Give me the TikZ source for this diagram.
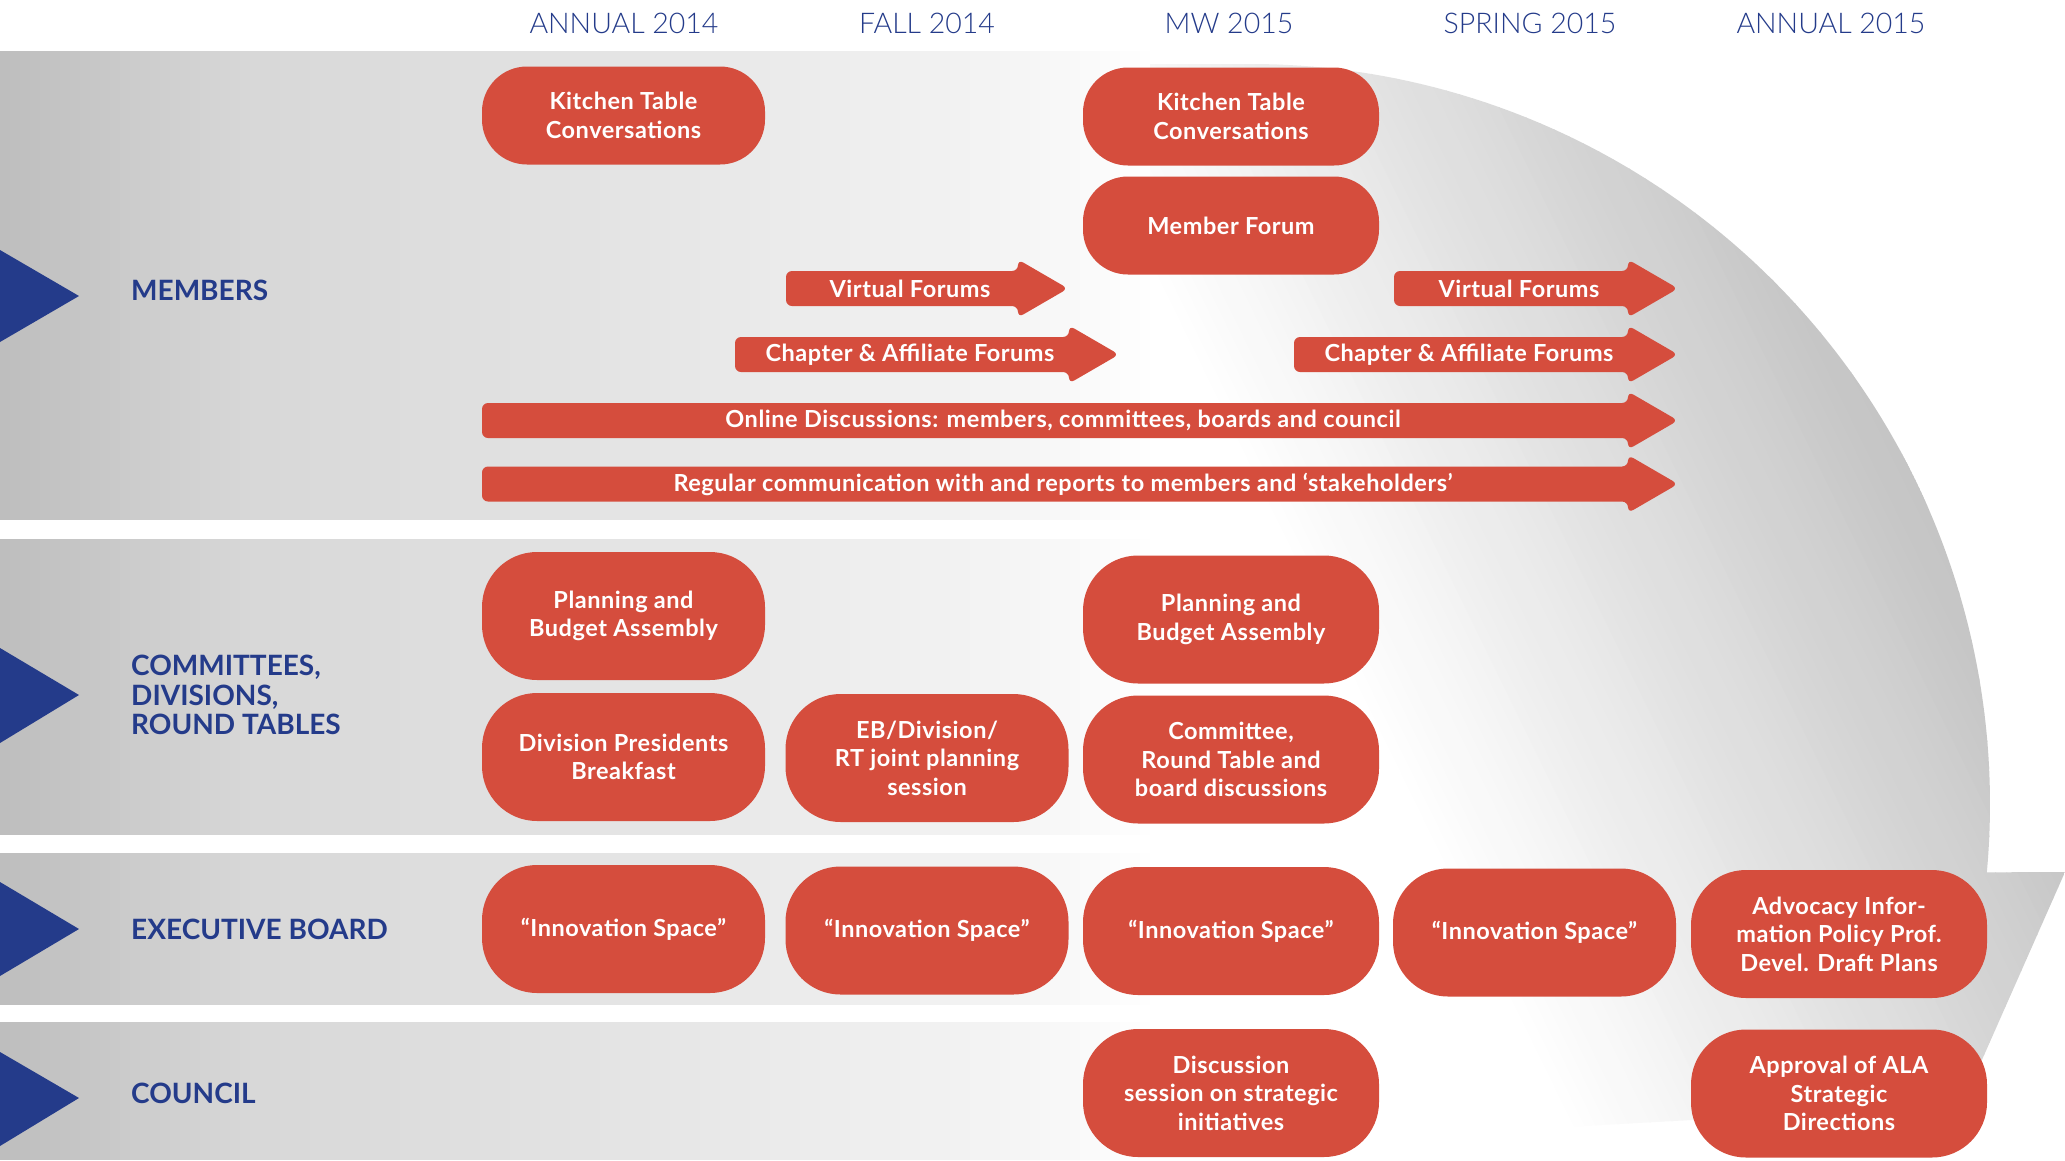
\documentclass[tikz,border=0pt]{standalone}
\usepackage{fontspec}
\setmainfont{Lato}
\newfontfamily\boxfont{Lato}[LetterSpace=2.3]
\newfontfamily\hdrfont{Lato Light}
\usetikzlibrary{calc}
\definecolor{boxred}{HTML}{D54D3D}
\definecolor{navy}{HTML}{243B8A}
\definecolor{arcgray}{HTML}{C2C2C2}
\newcommand\blockarrow[5]{%
  \path[fill=boxred, rounded corners=6pt] (#2,{#4-17.5}) -- ({#3-50},{#4-17.5}) -- ({#3-50},{#4-29}) -- (#3,#4) -- ({#3-50},{#4+29}) -- ({#3-50},{#4+17.5}) -- (#2,{#4+17.5}) -- cycle;
  \node[arrowtext] (#1) at ({(#2+#3)/2-17},#4) {#5};
}
\tikzset{
  pill/.style={fill=boxred, text=white, align=center, inner sep=0pt,
    font=\boxfont\bfseries\fontsize{23.5}{28.5}\selectfont, rounded corners=55pt, minimum height=128pt},
  pillS/.style={pill, rounded corners=45pt, minimum height=98pt},
  wA/.style={minimum width=283pt},
  wB/.style={minimum width=296pt},
  arrowtext/.style={text=white, inner sep=0pt, font=\boxfont\bfseries\fontsize{23.5}{26}\selectfont},
  hdr/.style={text=navy, inner sep=0pt, font=\hdrfont\fontsize{28.5}{30}\selectfont},
  rowlabel/.style={text=navy, inner sep=0pt, anchor=west, align=left, font=\bfseries\fontsize{28}{29.6}\selectfont},
}
\begin{document}
\begin{tikzpicture}[x=1pt,y=-1pt]
\useasboundingbox (0,0) rectangle (2065,1160);
\fill[white] (0,0) rectangle (2065,1160);
% bands: horizontal gradient built from thin strips
\foreach \k in {0,...,115} {
  \pgfmathsetmacro\xa{10*\k}
  \pgfmathsetmacro\xm{\xa+5}
  \pgfmathtruncatemacro\g{\xm<250 ? 190+\xm/250*26 : (\xm<600 ? 216+(\xm-250)/350*12 : (\xm<1000 ? 228+(\xm-600)/400*16 : min(255,244+(\xm-1000)/150*11)))}
  \definecolor{bandtmp}{RGB}{\g,\g,\g}
  \fill[bandtmp] (\xa,51) rectangle ({\xa+10.6},520);
  \fill[bandtmp] (\xa,539) rectangle ({\xa+10.6},835);
  \fill[bandtmp] (\xa,853) rectangle ({\xa+10.6},1005);
  \fill[bandtmp] (\xa,1022) rectangle ({\xa+10.6},1160);
}
% triangles
\fill[navy] (0,250) -- (79,296) -- (0,342) -- cycle;
\fill[navy] (0,648) -- (79,695) -- (0,743) -- cycle;
\fill[navy] (0,882) -- (79,929) -- (0,976) -- cycle;
\fill[navy] (0,1052) -- (79,1098) -- (0,1146) -- cycle;
% big curved arrow (gradient light lower-left to gray upper-right)
\begin{scope}
\clip (1150,64) -- (1250,64) arc[start angle=-90, end angle=5.3, radius=740] -- (2065,872) -- (1962,1105) -- (1150,1150) -- cycle;
\fill[white] ({0*0.898+400*0.439},{-0*0.439+400*0.898}) -- ({0*0.898+2000*0.439},{-0*0.439+2000*0.898}) -- ({925*0.898+2000*0.439},{-925*0.439+2000*0.898}) -- ({925*0.898+400*0.439},{-925*0.439+400*0.898}) -- cycle;
\foreach \i in {0,...,60} {
  \pgfmathsetmacro\pa{920+10*\i}
  \pgfmathsetmacro\pb{\i==60 ? 2500 : \pa+10.6}
  \pgfmathsetmacro\f{100*(\i+0.5)/61}
  \fill[arcgray!\f!white] ({\pa*0.898+400*0.439},{-\pa*0.439+400*0.898}) -- ({\pa*0.898+2000*0.439},{-\pa*0.439+2000*0.898}) -- ({\pb*0.898+2000*0.439},{-\pb*0.439+2000*0.898}) -- ({\pb*0.898+400*0.439},{-\pb*0.439+400*0.898}) -- cycle;
}
\end{scope}
% headers
\node[hdr] (h1) at (624,23) {ANNUAL 2014};
\node[hdr] (h2) at (927,23) {FALL 2014};
\node[hdr] (h3) at (1229,23) {MW 2015};
\node[hdr] (h4) at (1530,23) {SPRING 2015};
\node[hdr] (h5) at (1831,23) {ANNUAL 2015};
% row labels
\node[rowlabel] (lm) at (131,290) {MEMBERS};
\node[rowlabel] (lc) at (131,695) {COMMITTEES,\\DIVISIONS,\\ROUND TABLES};
\node[rowlabel] (le) at (131,929) {EXECUTIVE BOARD};
\node[rowlabel] (lco) at (131,1093) {COUNCIL};
% members row
\node[pillS, wA] (kt1) at (623.5,115.5) {Kitchen Table\\Conversations};
\node[pillS, wB] (kt2) at (1231,116.5) {Kitchen Table\\Conversations};
\node[pillS, wB] (mf) at (1231,225.5) {Member Forum};
\blockarrow{vf1}{786}{1068}{288.5}{Virtual Forums}
\blockarrow{vf2}{1394}{1678}{288.5}{Virtual Forums}
\blockarrow{ca1}{735}{1119}{354.5}{Chapter \& Affiliate Forums}
\blockarrow{ca2}{1294}{1678}{354.5}{Chapter \& Affiliate Forums}
\blockarrow{od}{482}{1678}{420.5}{Online Discussions: members, committees, boards and council}
\blockarrow{rc}{482}{1678}{484}{Regular communication with and reports to members and ‘stakeholders’}
% committees row
\node[pill, wA] (pba1) at (623.5,616) {Planning and\\Budget Assembly};
\node[pill, wB] (pba2) at (1231,619.5) {Planning and\\Budget Assembly};
\node[pill, wA] (dpb) at (623.5,757) {Division Presidents\\Breakfast};
\node[pill, wA] (eb) at (927,758) {EB/Division/\\RT joint planning\\session};
\node[pill, wB] (crt) at (1231,759.5) {Committee,\\Round Table and\\board discussions};
% executive row
\node[pill, wA] (in1) at (623.5,929) {“Innovation Space”};
\node[pill, wA] (in2) at (927,930.5) {“Innovation Space”};
\node[pill, wB] (in3) at (1231,931) {“Innovation Space”};
\node[pill, wA] (in4) at (1534.5,932.5) {“Innovation Space”};
\node[pill, wB] (adv) at (1839,934) {Advocacy Infor-\\mation Policy Prof.\\Devel. Draft Plans};
% council row
\node[pill, wB] (disc) at (1231,1093) {Discussion\\session on strategic\\initiatives};
\node[pill, wB] (appr) at (1839,1093.5) {Approval of ALA\\Strategic\\Directions};
\end{tikzpicture}
\end{document}
